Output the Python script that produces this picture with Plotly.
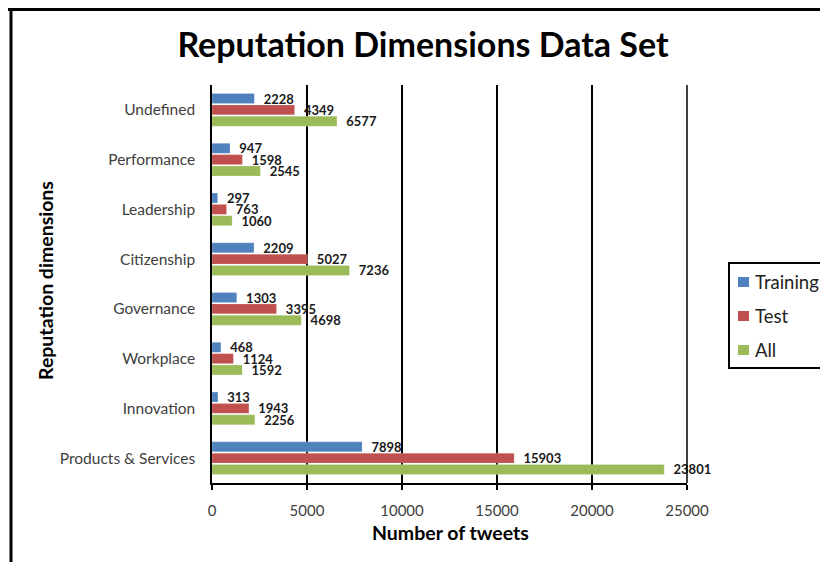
import plotly.graph_objects as go

categories = ["Undefined", "Performance", "Leadership", "Citizenship",
              "Governance", "Workplace", "Innovation", "Products & Services"]
training = [2228, 947, 297, 2209, 1303, 468, 313, 7898]
test = [4349, 1598, 763, 5027, 3395, 1124, 1943, 15903]
all_ = [6577, 2545, 1060, 7236, 4698, 1592, 2256, 23801]
x_ticks = [0, 5000, 10000, 15000, 20000, 25000]
series_names = ["Training", "Test", "All"]
series_colors = ["#4F81BD", "#C0504D", "#9BBB59"]

FONT = "Lato, Carlito, Calibri, sans-serif"
PAD = "\u00a0\u00a0"

# page is offset by the 8px body margin
OFF = 8
W_FIG, H_FIG = 828 - OFF, 562 - OFF
PL, PR, PT, PB = 212, 687, 85, 483  # plot area in page pixels
PW, PH = PR - PL, PB - PT


def fx(px):
    return (px - PL) / PW


def fy(py):
    return (PB - py) / PH


fig = go.Figure()
for name, vals, color in zip(series_names, [training, test, all_], series_colors):
    fig.add_trace(go.Bar(
        y=categories, x=vals, name=name, orientation="h",
        marker=dict(color=color, line=dict(color="rgba(255,255,255,0.4)", width=0.5)),
        text=[PAD + str(v) for v in vals], textposition="outside",
        textfont=dict(family=FONT, size=13, color="#1a1a1a", weight="bold"),
        constraintext="none", cliponaxis=False, showlegend=False,
    ))

fig.update_layout(
    width=W_FIG, height=H_FIG,
    margin=dict(l=PL - OFF, r=W_FIG - (PR - OFF), t=PT - OFF, b=H_FIG - (PB - OFF),
                autoexpand=False),
    paper_bgcolor="white", plot_bgcolor="white",
    barmode="group", bargap=0.317, bargroupgap=0.118,
    font=dict(family=FONT, color="#333333"),
    title=dict(text="<b>Reputation Dimensions Data Set</b>",
               x=(423 - OFF) / W_FIG, xanchor="center",
               y=1 - (45 - OFF) / H_FIG, yanchor="middle",
               font=dict(family=FONT, size=34, color="#000000")),
    showlegend=False,
    xaxis=dict(range=[x_ticks[0], x_ticks[-1]], tickvals=x_ticks,
               ticktext=[str(v) for v in x_ticks],
               showgrid=True, gridcolor="black", gridwidth=1.5,
               showline=True, linecolor="black", linewidth=1.5,
               ticks="outside", ticklen=5, tickcolor="black", tickwidth=1.5,
               ticklabelstandoff=8, automargin=False,
               tickfont=dict(family=FONT, size=15, color="#404040"),
               zeroline=False, fixedrange=True),
    yaxis=dict(categoryorder="array", categoryarray=categories, autorange="reversed",
               showline=True, linecolor="black", linewidth=1.5,
               showgrid=False, ticks="", ticklabelstandoff=12, automargin=False,
               tickfont=dict(family=FONT, size=15.5, color="#404040")),
)

# gridline at the right edge of the plot area (plotly skips the edge one)
fig.add_shape(type="line", xref="paper", yref="paper",
              x0=1, x1=1, y0=0, y1=1,
              line=dict(color="black", width=1.5))

# axis titles
fig.add_annotation(text="<b>Number of tweets</b>", xref="paper", yref="paper",
                   x=fx(450), y=fy(532), showarrow=False,
                   xanchor="center", yanchor="middle",
                   font=dict(family=FONT, size=19.5, color="#000000"))
fig.add_annotation(text="<b>Reputation dimensions</b>", xref="paper", yref="paper",
                   x=fx(45), y=fy(281), showarrow=False,
                   textangle=-90, xanchor="center", yanchor="middle",
                   font=dict(family=FONT, size=19.5, color="#000000"))

# frame lines (top and left)
fig.add_shape(type="line", xref="paper", yref="paper",
              x0=fx(8), x1=fx(830), y0=fy(9.5), y1=fy(9.5),
              line=dict(color="black", width=3))
fig.add_shape(type="line", xref="paper", yref="paper",
              x0=fx(11), x1=fx(11), y0=fy(8), y1=fy(565),
              line=dict(color="black", width=3))

# legend box (drawn manually to match the compact layout)
fig.add_shape(type="rect", xref="paper", yref="paper",
              x0=fx(729), x1=fx(826), y0=fy(263), y1=fy(368),
              line=dict(color="black", width=2), fillcolor="white")
for i, (name, color) in enumerate(zip(series_names, series_colors)):
    cy = 282 + 34 * i
    fig.add_shape(type="rect", xref="paper", yref="paper",
                  x0=fx(738), x1=fx(749), y0=fy(cy - 5), y1=fy(cy + 5),
                  line=dict(width=0), fillcolor=color)
    fig.add_annotation(text=name, xref="paper", yref="paper",
                       x=fx(753), y=fy(cy), showarrow=False,
                       xanchor="left", yanchor="middle",
                       font=dict(family=FONT, size=18.5, color="#222222"))

fig.write_html("out.html")
